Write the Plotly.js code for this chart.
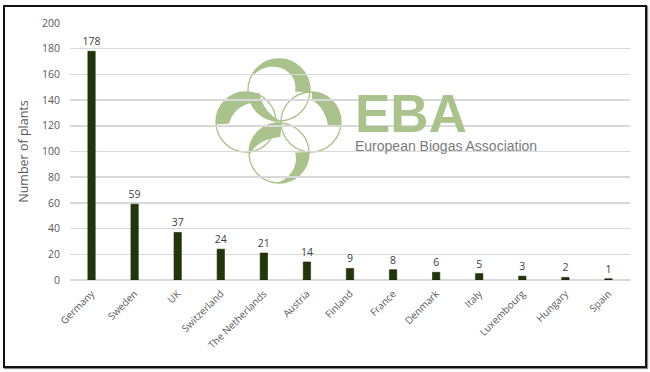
<!DOCTYPE html>
<html>
<head>
<meta charset="utf-8">
<script src="https://cdn.plot.ly/plotly-3.0.1.min.js"></script>
<style>
  html, body { margin: 0; padding: 0; background: #fff; }
  #wrap { position: relative; width: 650px; height: 372px; }
  #chart { width: 650px; height: 372px; }
  #frame { position: absolute; left: 3px; top: 5px; width: 640px; height: 359px;
           border: 2px solid #111; box-shadow: 1px 1px 1px #888; pointer-events: none; }
</style>
</head>
<body>
<div id="wrap">
  <div id="chart"></div>
  <div id="frame"></div>
</div>
<script>
// ---- data ----
const countries = ["Germany", "Sweden", "UK", "Switzerland", "The Netherlands", "Austria",
                   "Finland", "France", "Denmark", "Italy", "Luxembourg", "Hungary", "Spain"];
const plants = [178, 59, 37, 24, 21, 14, 9, 8, 6, 5, 3, 2, 1];
const yTickVals = [0, 20, 40, 60, 80, 100, 120, 140, 160, 180, 200];
const yTitle = "Number of plants";
const logoTitle = "EBA";
const logoSubtitle = "European Biogas Association";

// ---- layout geometry (page pixels) ----
const W = 650, H = 372;
const M = { l: 70, r: 20, t: 23, b: 92 };
const PW = W - M.l - M.r, PH = H - M.t - M.b;
const px = X => (X - M.l) / PW;
const py = Y => (H - M.b - Y) / PH;

// ---- watermark logo (decorative) ----
const green = "#aac28b";
// crescent along a circle from angle a0 to a1 (deg, clockwise from up),
// thickness t0 at start, tm in middle, t1 at end (growing inward)
function crescent(cx, cy, r, a0, a1, t0, tm, t1) {
  const n = 48, outer = [], inner = [];
  for (let i = 0; i <= n; i++) {
    const f = i / n;
    const a = (a0 + (a1 - a0) * f) * Math.PI / 180;
    const lin = t0 * (1 - f) + t1 * f;
    const t = lin + (tm - (t0 + t1) / 2) * 4 * f * (1 - f);
    outer.push([cx + r * Math.sin(a), cy - r * Math.cos(a)]);
    inner.push([cx + (r - t) * Math.sin(a), cy - (r - t) * Math.cos(a)]);
  }
  const pts = outer.concat(inner.reverse());
  return "M" + pts.map(p => px(p[0]).toFixed(5) + "," + py(p[1]).toFixed(5)).join("L") + "Z";
}
const rings = [
  { cx: 279, cy: 90, r: 31 },
  { cx: 311, cy: 122, r: 30 },
  { cx: 246, cy: 122, r: 30 },
  { cx: 279, cy: 153, r: 30 }
];
const cres = [
  [279, 90, 31, -62, 95, 1, 10, 15],     // top: over the top to the right
  [279, 90, 31, -98, -180, 11, 9, 1],    // top: lower-left
  [311, 122, 30, 2, 100, 8, 14, 13],     // right
  [246, 122, 30, -95, 30, 13, 15, 8],    // left
  [279, 153, 30, -92, 5, 1, 12, 14],     // bottom: upper-left
  [279, 153, 30, 88, 180, 14, 9, 1]      // bottom: lower-right
];
const shapes = [];
rings.forEach(c => shapes.push({
  type: "circle", xref: "paper", yref: "paper", layer: "below",
  x0: px(c.cx - c.r), x1: px(c.cx + c.r), y0: py(c.cy + c.r), y1: py(c.cy - c.r),
  line: { color: green, width: 1.3 }
}));
cres.forEach(c => shapes.push({
  type: "path", xref: "paper", yref: "paper", layer: "below",
  path: crescent(...c), fillcolor: green, line: { width: 0 }
}));

const trace = {
  type: "bar",
  x: countries,
  y: plants,
  width: 0.17,
  marker: { color: "#223709", line: { color: "#162505", width: 0.6 } },
  text: plants.map(String),
  textposition: "outside",
  constraintext: "none",
  cliponaxis: false,
  textfont: { family: "Open Sans", size: 10.5, color: "#404040" },
  hoverinfo: "x+y"
};

const layout = {
  width: W, height: H,
  margin: M,
  paper_bgcolor: "#fff",
  plot_bgcolor: "rgba(0,0,0,0)",
  showlegend: false,
  font: { family: "Open Sans", color: "#595959", size: 10.5 },
  xaxis: {
    type: "category",
    tickangle: -45,
    ticks: "",
    ticklabelstandoff: 5,
    showgrid: false,
    showline: false,
    zeroline: false,
    tickfont: { family: "Open Sans", size: 10, color: "#595959" },
    automargin: false
  },
  yaxis: {
    range: [0, 200],
    tickvals: yTickVals,
    ticks: "",
    ticklabelstandoff: 9,
    showgrid: true,
    gridcolor: "#d9d9d9",
    gridwidth: 1.5,
    zeroline: true,
    zerolinecolor: "#d9d9d9",
    zerolinewidth: 1.5,
    showline: false,
    tickfont: { family: "Open Sans", size: 10.5, color: "#595959" },
    title: { text: yTitle, font: { family: "Open Sans", size: 12.5, color: "#595959" }, standoff: 10 },
    automargin: false
  },
  shapes: shapes,
  annotations: [
    { xref: "paper", yref: "paper", x: px(353), y: py(114), xanchor: "left", yanchor: "middle",
      text: "<b>" + logoTitle + "</b>", showarrow: false,
      font: { family: "Liberation Sans", size: 53, color: green } },
    { xref: "paper", yref: "paper", x: px(353), y: py(146), xanchor: "left", yanchor: "middle",
      text: logoSubtitle, showarrow: false,
      font: { family: "Liberation Sans", size: 14, color: "#7b7b7b" } }
  ]
};

Plotly.newPlot("chart", [trace], layout, { displayModeBar: false, staticPlot: true });
</script>
</body>
</html>
